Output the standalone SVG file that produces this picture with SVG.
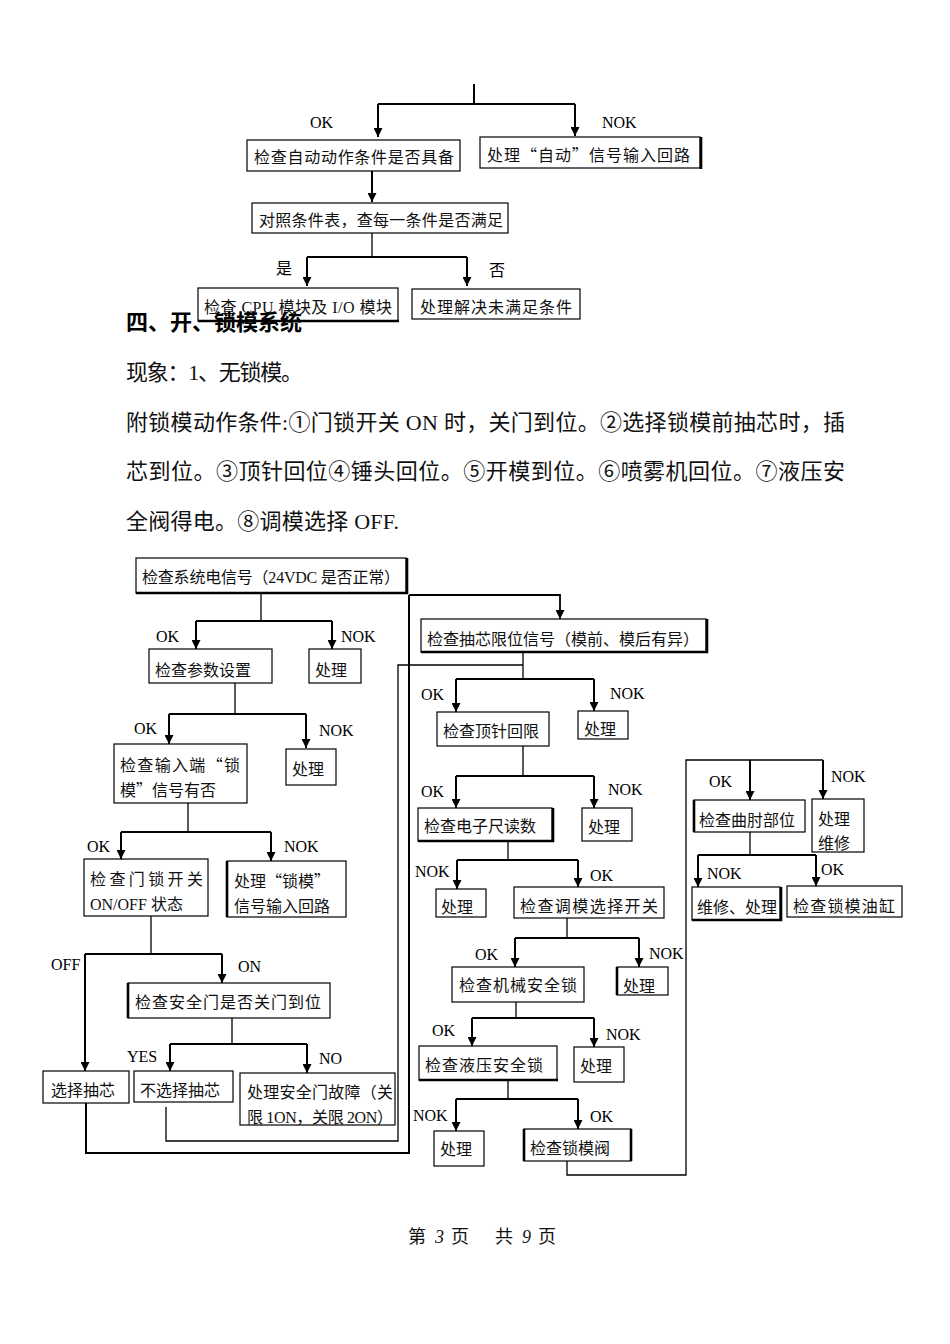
<svg xmlns="http://www.w3.org/2000/svg" width="950" height="1344" viewBox="0 0 950 1344">
<style>
.bx{fill:#fff;stroke:#000;stroke-width:1.2}
.sh{stroke:#000;stroke-width:2.6;fill:none}
.t{font-family:"Liberation Serif","Noto Sans CJK SC",serif;font-size:16px;fill:#111}
.q{font-family:"Noto Sans CJK SC",sans-serif;font-feature-settings:"fwid" 1}
.lb{font-family:"Liberation Serif","Noto Sans CJK SC",serif;font-size:16px;fill:#000}
.p{font-family:"Liberation Serif","Noto Sans CJK SC",serif;font-size:22px;fill:#111}
.h{font-family:"Liberation Serif","Noto Sans CJK SC",serif;font-size:22px;font-weight:bold;fill:#000}
.thin{stroke:#000;stroke-width:1.3;fill:none}
.thk{stroke:#000;stroke-width:2;fill:none}
.ar{stroke:#000;stroke-width:2;fill:none;marker-end:url(#ah)}
.ft{font-family:"Liberation Serif","Noto Sans CJK SC",serif;font-size:18px;fill:#111}
</style>
<defs>
<marker id="ah" viewBox="0 0 10 10" refX="10" refY="5" markerWidth="11" markerHeight="9" markerUnits="userSpaceOnUse" orient="auto"><path d="M0,0 L10,5 L0,10 z" fill="#000"/></marker>
</defs>
<rect width="950" height="1344" fill="#fff"/>

<g id="connectors">
<!-- top chart -->
<path class="thk" d="M474,84 V104 M378,104 H575"/>
<path class="ar" d="M378,104 V137"/>
<path class="ar" d="M575,104 V136"/>
<path class="ar" d="M372,171 V202"/>
<path class="thin" d="M372,233 V257"/>
<path class="thk" d="M307,257 H467"/>
<path class="ar" d="M307,257 V286"/>
<path class="ar" d="M467,257 V286"/>
<text class="lb" x="310" y="128">OK</text>
<text class="lb" x="602" y="128">NOK</text>
<text class="lb" x="276" y="274">是</text>
<text class="lb" x="489" y="276">否</text>

<!-- lower left -->
<path class="thin" d="M261,593 V621"/>
<path class="thk" d="M196,621 H332"/>
<path class="ar" d="M196,621 V649"/>
<path class="ar" d="M332,621 V649"/>
<text class="lb" x="156" y="642">OK</text>
<text class="lb" x="341" y="642">NOK</text>
<path class="thin" d="M235,683 V714"/>
<path class="thk" d="M169,714 H306"/>
<path class="ar" d="M169,714 V744"/>
<path class="ar" d="M306,714 V748"/>
<text class="lb" x="134" y="734">OK</text>
<text class="lb" x="319" y="736">NOK</text>
<path class="thin" d="M188,803 V832"/>
<path class="thk" d="M121,832 H271"/>
<path class="ar" d="M121,832 V859"/>
<path class="ar" d="M271,832 V861"/>
<text class="lb" x="87" y="852">OK</text>
<text class="lb" x="284" y="852">NOK</text>
<path class="thin" d="M151,916 V954"/>
<path class="thk" d="M85,954 H222"/>
<path class="ar" d="M85,954 V1071"/>
<path class="ar" d="M222,954 V983"/>
<text class="lb" x="51" y="970">OFF</text>
<text class="lb" x="238" y="972">ON</text>
<path class="thin" d="M232,1018 V1044"/>
<path class="thk" d="M170,1044 H307"/>
<path class="ar" d="M170,1044 V1071"/>
<path class="ar" d="M307,1044 V1073"/>
<text class="lb" x="127" y="1062">YES</text>
<text class="lb" x="319" y="1064">NO</text>
<path class="thk" d="M86,1103 V1153 H409 V595"/>
<path class="ar" d="M409,595 H560 V619" style="stroke-width:1.8"/>
<path class="thin" d="M166,1107 V1141 H398 V665 H523"/>

<!-- middle -->
<path class="thin" d="M523,652 V679"/>
<path class="thk" d="M456,679 H594"/>
<path class="ar" d="M456,679 V712"/>
<path class="ar" d="M594,679 V711"/>
<text class="lb" x="421" y="700">OK</text>
<text class="lb" x="610" y="699">NOK</text>
<path class="thin" d="M523,746 V776"/>
<path class="thk" d="M456,776 H594"/>
<path class="ar" d="M456,776 V808"/>
<path class="ar" d="M594,776 V808"/>
<text class="lb" x="421" y="797">OK</text>
<text class="lb" x="608" y="795">NOK</text>
<path class="thin" d="M508,841 V860"/>
<path class="thk" d="M457,860 H578"/>
<path class="ar" d="M457,860 V889"/>
<path class="ar" d="M578,860 V887"/>
<text class="lb" x="415" y="877">NOK</text>
<text class="lb" x="590" y="881">OK</text>
<path class="thin" d="M567,918 V938"/>
<path class="thk" d="M515,938 H639"/>
<path class="ar" d="M515,938 V967"/>
<path class="ar" d="M639,938 V967"/>
<text class="lb" x="475" y="960">OK</text>
<text class="lb" x="649" y="959">NOK</text>
<path class="thin" d="M516,1002 V1018"/>
<path class="thk" d="M472,1018 H594"/>
<path class="ar" d="M472,1018 V1046"/>
<path class="ar" d="M594,1018 V1047"/>
<text class="lb" x="432" y="1036">OK</text>
<text class="lb" x="606" y="1040">NOK</text>
<path class="thin" d="M508,1080 V1099"/>
<path class="thk" d="M456,1099 H578"/>
<path class="ar" d="M456,1099 V1131"/>
<path class="ar" d="M578,1099 V1129"/>
<text class="lb" x="413" y="1121">NOK</text>
<text class="lb" x="590" y="1122">OK</text>
<path class="thin" d="M567,1161 V1175 H686 V760 H823"/>
<path class="ar" d="M750,760 V800"/>
<path class="ar" d="M823,760 V799"/>
<text class="lb" x="709" y="787">OK</text>
<text class="lb" x="831" y="782">NOK</text>

<!-- right -->
<path class="thin" d="M750,832 V855"/>
<path class="thk" d="M698,855 H816"/>
<path class="ar" d="M698,855 V887"/>
<path class="ar" d="M816,855 V886"/>
<text class="lb" x="707" y="879">NOK</text>
<text class="lb" x="821" y="875">OK</text>
</g>

<!-- top chart nodes -->
<g id="n-auto"><rect class="bx" x="247" y="140" width="213" height="31"/><text class="t" x="254" y="163" textLength="200">检查自动动作条件是否具备</text></g>
<g id="n-autosig"><rect class="bx" x="480" y="137" width="220" height="31"/><path class="sh" d="M701,137 V169"/><text class="t" x="487" y="161" textLength="203">处理<tspan class="q">“</tspan>自动<tspan class="q">”</tspan>信号输入回路</text></g>
<g id="n-table"><rect class="bx" x="252" y="203" width="256" height="30"/><text class="t" x="259" y="226" textLength="244">对照条件表，查每一条件是否满足</text></g>
<g id="n-cpu"><rect class="bx" x="198" y="288" width="200" height="33"/><path class="sh" d="M198,321 H399"/><text class="t" x="204" y="313" textLength="188">检查 CPU 模块及 I/O 模块</text></g>
<g id="n-unmet"><rect class="bx" x="412" y="289" width="168" height="30"/><text class="t" x="420" y="313" textLength="152">处理解决未满足条件</text></g>

<!-- heading and paragraph -->
<g id="body-text">
<text class="h" x="126" y="330">四、开、锁模系统</text>
<text class="p" x="126" y="380" textLength="177">现象：1、无锁模。</text>
<text class="p" x="126" y="430" textLength="719">附锁模动作条件:①门锁开关 ON 时，关门到位。②选择锁模前抽芯时，插</text>
<text class="p" x="126" y="479" textLength="719">芯到位。③顶针回位④锤头回位。⑤开模到位。⑥喷雾机回位。⑦液压安</text>
<text class="p" x="126" y="529" textLength="273">全阀得电。⑧调模选择 OFF.</text>
</g>

<!-- lower left nodes -->
<g id="n-sys"><rect class="bx" x="136" y="558" width="270" height="35"/><path class="sh" d="M136,593 H407 V558"/><text class="t" x="142" y="583" textLength="258">检查系统电信号（24VDC 是否正常）</text></g>
<g id="n-param"><rect class="bx" x="149" y="649" width="123" height="34"/><text class="t" x="155" y="676">检查参数设置</text></g>
<g id="n-p1"><rect class="bx" x="309" y="649" width="52" height="34"/><text class="t" x="315" y="676">处理</text></g>
<g id="n-input"><rect class="bx" x="114" y="744" width="133" height="59"/><text class="t" x="120" y="771" textLength="120">检查输入端<tspan class="q">“</tspan>锁</text><text class="t" x="120" y="796">模<tspan class="q">”</tspan>信号有否</text></g>
<g id="n-p2"><rect class="bx" x="286" y="749" width="50" height="36"/><text class="t" x="292" y="775">处理</text></g>
<g id="n-door"><rect class="bx" x="84" y="859" width="124" height="57"/><text class="t" x="90" y="885" textLength="113">检查门锁开关</text><text class="t" x="90" y="910">ON/OFF 状态</text><path d="M120,856 l2,4" stroke="#000" stroke-width="1"/></g>
<g id="n-lockin"><rect class="bx" x="227" y="861" width="119" height="56"/><path class="sh" d="M227,861 V917"/><text class="t" x="234" y="887">处理<tspan class="q">“</tspan>锁模<tspan class="q">”</tspan></text><text class="t" x="234" y="912">信号输入回路</text></g>
<g id="n-safe"><rect class="bx" x="128" y="983" width="202" height="35"/><path class="sh" d="M128,983 V1018"/><text class="t" x="135" y="1008" textLength="186">检查安全门是否关门到位</text></g>
<g id="n-sel"><rect class="bx" x="43" y="1071" width="86" height="32"/><text class="t" x="51" y="1096">选择抽芯</text></g>
<g id="n-nosel"><rect class="bx" x="134" y="1071" width="99" height="31"/><text class="t" x="140" y="1096">不选择抽芯</text></g>
<g id="n-doorfault"><rect class="bx" x="240" y="1073" width="155" height="52"/><text class="t" x="247" y="1098" textLength="146">处理安全门故障（关</text><text class="t" x="247" y="1123" textLength="146">限 1ON，关限 2ON）</text></g>

<!-- middle nodes -->
<g id="n-core"><rect class="bx" x="421" y="619" width="285" height="33"/><path class="sh" d="M421,652 H707 V619"/><text class="t" x="427" y="645" textLength="272">检查抽芯限位信号（模前、模后有异）</text></g>
<g id="n-eject"><rect class="bx" x="437" y="712" width="112" height="34"/><text class="t" x="443" y="737">检查顶针回限</text></g>
<g id="n-p3"><rect class="bx" x="578" y="711" width="50" height="28"/><text class="t" x="584" y="735">处理</text></g>
<g id="n-ruler"><rect class="bx" x="418" y="808" width="134" height="33"/><path class="sh" d="M418,841 H553 V808"/><text class="t" x="424" y="832">检查电子尺读数</text></g>
<g id="n-p4"><rect class="bx" x="582" y="808" width="50" height="33"/><text class="t" x="588" y="833">处理</text></g>
<g id="n-p5"><rect class="bx" x="436" y="889" width="50" height="28"/><text class="t" x="441" y="913">处理</text></g>
<g id="n-adj"><rect class="bx" x="514" y="887" width="150" height="31"/><text class="t" x="520" y="912" textLength="138">检查调模选择开关</text></g>
<g id="n-mech"><rect class="bx" x="452" y="967" width="132" height="35"/><text class="t" x="459" y="991" textLength="118">检查机械安全锁</text></g>
<g id="n-p6"><rect class="bx" x="617" y="967" width="51" height="28"/><path class="sh" d="M617,967 V995"/><text class="t" x="623" y="992">处理</text></g>
<g id="n-hyd"><rect class="bx" x="419" y="1046" width="138" height="34"/><path class="sh" d="M419,1080 H558"/><text class="t" x="425" y="1071" textLength="118">检查液压安全锁</text></g>
<g id="n-p7"><rect class="bx" x="574" y="1047" width="50" height="35"/><text class="t" x="580" y="1072">处理</text></g>
<g id="n-p8"><rect class="bx" x="434" y="1131" width="50" height="35"/><text class="t" x="440" y="1155">处理</text></g>
<g id="n-valve"><rect class="bx" x="524" y="1129" width="107" height="32"/><path class="sh" d="M524,1129 V1161 M631,1129 V1161"/><text class="t" x="530" y="1154">检查锁模阀</text></g>

<!-- right nodes -->
<g id="n-toggle"><rect class="bx" x="694" y="800" width="111" height="32"/><path class="sh" d="M694,800 V832"/><text class="t" x="699" y="826">检查曲肘部位</text></g>
<g id="n-repair1"><rect class="bx" x="812" y="799" width="52" height="53"/><text class="t" x="818" y="825">处理</text><text class="t" x="818" y="849">维修</text></g>
<g id="n-repair2"><rect class="bx" x="692" y="887" width="88" height="33"/><path class="sh" d="M692,920 H781 V887"/><text class="t" x="697" y="913">维修、处理</text></g>
<g id="n-cyl"><rect class="bx" x="787" y="886" width="115" height="31"/><text class="t" x="793" y="912" textLength="102">检查锁模油缸</text></g>

<g id="footer">
<text class="ft" x="408" y="1243">第</text>
<text class="ft" x="435" y="1243" font-style="italic">3</text>
<text class="ft" x="451" y="1243">页</text>
<text class="ft" x="495" y="1243">共</text>
<text class="ft" x="522" y="1243" font-style="italic">9</text>
<text class="ft" x="538" y="1243">页</text>
</g>
</svg>
